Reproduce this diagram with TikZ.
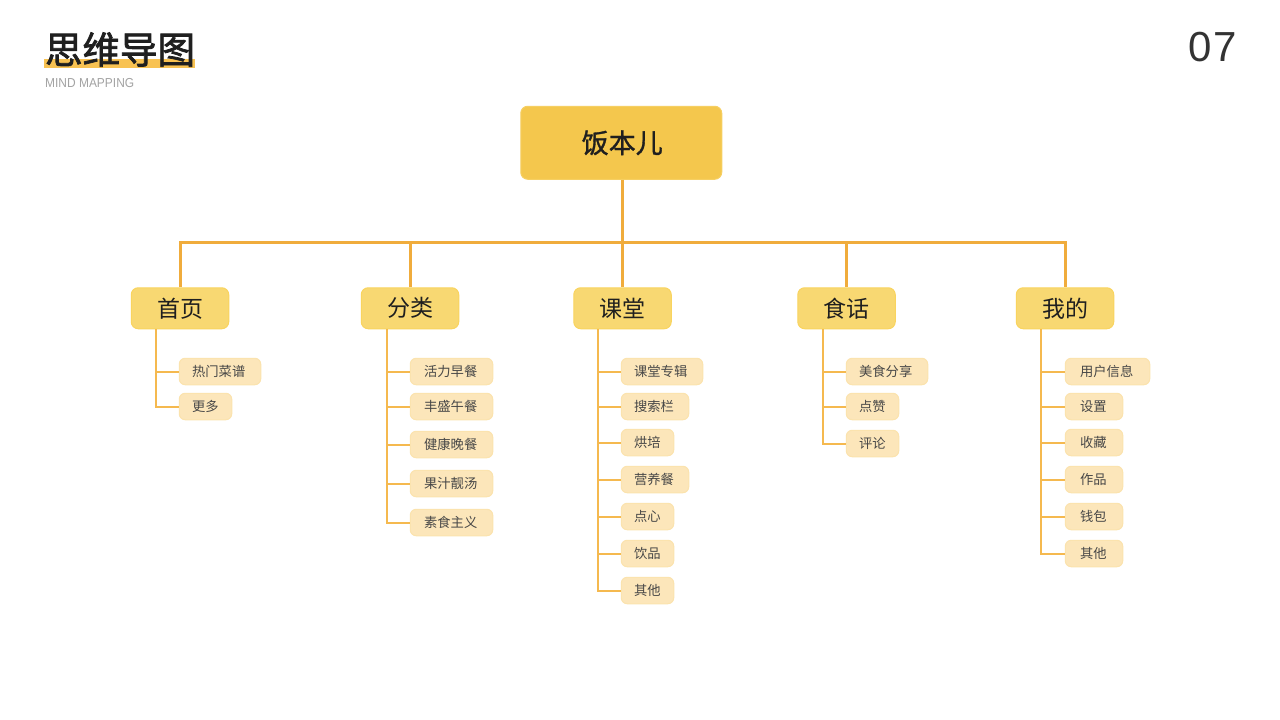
\documentclass[tikz,border=0pt]{standalone}
\usepackage{fontspec}
\setmainfont{Noto Sans CJK SC}
\newfontfamily\latinfont{Liberation Sans}
\newfontfamily\digitfont[LetterSpace=4]{Liberation Sans}
\newfontfamily\halfbold[FakeBold=2]{Noto Sans CJK SC}
\newfontfamily\lightbold[FakeBold=1.2]{Noto Sans CJK SC}
\definecolor{rootfill}{HTML}{F4C74D}
\definecolor{rootline}{HTML}{F6CF62}
\definecolor{midfill}{HTML}{F8D872}
\definecolor{midline}{HTML}{F9D45F}
\definecolor{leaffill}{HTML}{FCE6BA}
\definecolor{leafline}{HTML}{FBE3AE}
\definecolor{wire}{HTML}{F0AC3C}
\definecolor{wirelight}{HTML}{F5B94F}
\definecolor{markcol}{HTML}{F8C252}
\tikzset{
  x=1pt,y=-1pt,
  rootbox/.style={draw=rootline,fill=rootfill,line width=1pt,rounded corners=7pt,inner sep=0pt,text=black!88,font=\lightbold\fontsize{27}{27}\selectfont},
  midbox/.style={draw=midline,fill=midfill,line width=1pt,rounded corners=7pt,inner sep=0pt,text=black!88,font=\fontsize{23}{23}\selectfont},
  leafbox/.style={draw=leafline,fill=leaffill,line width=1pt,rounded corners=6pt,inner sep=0pt,text=black!72,font=\fontsize{13.3}{14}\selectfont},
  buswire/.style={draw=wire,line width=3pt},
  twig/.style={draw=wirelight,line width=2pt},
}
\newlength{\leafpad}
\newcommand{\boxat}[7]{\node[#1,minimum width={(#4-#3-0.5)*1pt},minimum height={(#6-#5-0.5)*1pt}] (#2) at ({(#3+#4)/2},{(#5+#6)/2}) {#7};}
\newcommand{\leafat}[5]{\boxat{leafbox}{#1}{#2}{#3}{#4}{#4+27}{\makebox[\dimexpr#3pt-#2pt-1pt\relax][l]{\hspace{\leafpad}#5}}}
\begin{document}
\begin{tikzpicture}
\useasboundingbox (0,0) rectangle (1280,720);
\fill[white] (0,0) rectangle (1280,720);
% heading
\fill[markcol] (44,58.5) rectangle (195,68);
\node[inner sep=0pt,text=black!88,font=\halfbold\fontsize{37.5}{38}\selectfont] (title) at (120,49.5) {思维导图};
\node[inner sep=0pt,anchor=west,text=black!36,font=\latinfont\fontsize{13}{14}\selectfont,xscale=0.92] (subtitle) at (45,83) {MIND MAPPING};
\node[inner sep=0pt,text=black!80,font=\digitfont\fontsize{42}{42}\selectfont] (page) at (1213,47) {07};
% main nodes
\boxat{rootbox}{root}{520.5}{722}{106}{179.5}{\hspace{2pt}饭本儿}
\boxat{midbox}{m1}{131}{229}{287.5}{329}{首页}
\boxat{midbox}{m2}{361}{459}{287.5}{329}{分类}
\boxat{midbox}{m3}{573.5}{671.5}{287.5}{329}{课堂}
\boxat{midbox}{m4}{797.5}{895.5}{287.5}{329}{食话}
\boxat{midbox}{m5}{1016}{1114}{287.5}{329}{我的}
% leaves
\setlength{\leafpad}{12.6pt}
\leafat{a1}{179}{261}{358}{热门菜谱}
\leafat{a2}{179}{232}{393}{更多}
\setlength{\leafpad}{13.6pt}
\leafat{b1}{410}{493}{358}{活力早餐}
\leafat{b2}{410}{493}{393}{丰盛午餐}
\leafat{b3}{410}{493}{431}{健康晚餐}
\leafat{b4}{410}{493}{470}{果汁靓汤}
\leafat{b5}{410}{493}{509}{素食主义}
\setlength{\leafpad}{12.6pt}
\leafat{c1}{621}{703}{358}{课堂专辑}
\leafat{c2}{621}{689}{393}{搜索栏}
\leafat{c3}{621}{674}{429}{烘培}
\leafat{c4}{621}{689}{466}{营养餐}
\leafat{c5}{621}{674}{503}{点心}
\leafat{c6}{621}{674}{540}{饮品}
\leafat{c7}{621}{674}{577}{其他}
\leafat{d1}{846}{928}{358}{美食分享}
\leafat{d2}{846}{899}{393}{点赞}
\leafat{d3}{846}{899}{430}{评论}
\setlength{\leafpad}{14.6pt}
\leafat{e1}{1065}{1150}{358}{用户信息}
\leafat{e2}{1065}{1123}{393}{设置}
\leafat{e3}{1065}{1123}{429}{收藏}
\leafat{e4}{1065}{1123}{466}{作品}
\leafat{e5}{1065}{1123}{503}{钱包}
\leafat{e6}{1065}{1123}{540}{其他}
% bus
\coordinate (hub) at (622,242.5);
\draw[buswire] (root.south -| hub) -- (hub);
\draw[buswire] (hub) -| (m1.north);
\draw[buswire] (hub) -| (m2.north);
\draw[buswire] (hub) -- (hub |- m3.north);
\draw[buswire] (hub) -| (m4.north);
\draw[buswire] (hub) -| (m5.north);
% twigs
\coordinate (t1) at (155.5,329);
\coordinate (t2) at (386.5,329);
\coordinate (t3) at (598,329);
\coordinate (t4) at (823,329);
\coordinate (t5) at (1041,329);
\foreach \k in {a1,a2}{\draw[twig] (t1) |- (\k.west);}
\foreach \k in {b1,b2,b3,b4,b5}{\draw[twig] (t2) |- (\k.west);}
\foreach \k in {c1,c2,c3,c4,c5,c6,c7}{\draw[twig] (t3) |- (\k.west);}
\foreach \k in {d1,d2,d3}{\draw[twig] (t4) |- (\k.west);}
\foreach \k in {e1,e2,e3,e4,e5,e6}{\draw[twig] (t5) |- (\k.west);}
\end{tikzpicture}
\end{document}
